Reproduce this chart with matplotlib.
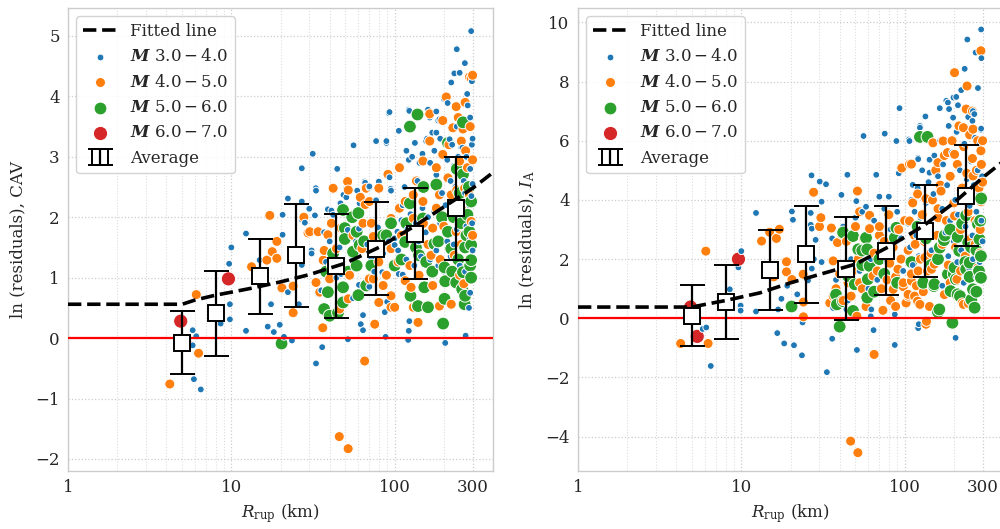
import numpy as np
import matplotlib
matplotlib.use("Agg")
import matplotlib.pyplot as plt
from matplotlib.ticker import FixedLocator, FixedFormatter, LogLocator, NullFormatter

# ---------------------------------------------------------------------------
# Residuals of CAV versus rupture distance (km, residual) by magnitude bin
# ---------------------------------------------------------------------------
cav_m3 = [
    (5.8, 0.13), (6.1, 0.03), (5.8, -0.12), (5.9, -0.68), (6.5, -0.85), (8.5, 0.38), (8.6, 0.24),
    (9.8, 0.31), (9.8, 0.56), (9.7, 1.23), (10.0, 1.50), (12.3, 0.12), (12.3, 1.73), (14.9, 1.29),
    (16.7, 0.19), (17.5, 0.56), (18.2, 0.10), (19.8, 0.22), (20.6, 2.04), (20.6, 1.71), (21.0, 0.02),
    (22.2, 0.76), (22.2, 2.31), (23.5, -0.04), (25.9, 0.56), (27.0, 2.26), (27.0, 2.81), (27.0, 1.21),
    (27.0, 1.96), (31.5, 3.05), (31.0, 1.45), (32.9, 2.48), (33.0, -0.42), (35.5, 0.79), (36.0, -0.15),
    (44.5, 2.80), (92, 3.72), (56, 3.19), (77, 3.26), (89, 3.23), (30.0, 2.14), (33.0, 2.44),
    (66, 2.57), (80, 2.59), (93, 2.66), (95, 2.44), (59, 2.44), (70, 2.49), (50.6, 2.33), (46.6, 2.23),
    (77, 2.28), (61, 2.23), (41, 2.11), (32.5, 2.03), (28.2, 1.91), (59.5, 2.03), (60.5, 1.81),
    (51.7, 1.79), (79, 1.83), (104, 1.76), (100, 1.65), (37, 1.75), (38, 1.26), (31, 1.40), (47, 1.06),
    (100, 1.54), (84, 1.09), (106, 1.06), (60.5, 0.88), (55.6, 0.66), (34, 0.73), (87, 0.43), (64, 0.38),
    (62, 0.23), (64, 0.13), (88, 0.02), (51.7, -0.02), (39, 2.13), (42, 2.04), (48.6, 2.37), (50.6, 2.48),
    (65.5, 2.59), (70, 2.51), (91, 2.71), (94.5, 2.47), (40, 1.60), (44, 1.00), (46, 1.50), (55, 1.35),
    (58, 1.60), (68, 1.55), (72, 1.30), (75, 1.10), (85, 1.40), (92, 1.60), (70, 0.85), (90, 0.60),
    (93, 3.74), (122, 3.78), (106, 3.43), (89, 3.26), (294, 5.08), (240, 4.78), (269, 4.55), (232, 4.38),
    (250, 4.39), (222, 4.23), (297, 4.25), (278, 4.04), (200, 3.96), (211, 3.89), (123, 3.76), (160, 3.78),
    (180, 3.75), (164, 3.65), (188, 3.62), (133, 3.23), (156, 3.26), (180, 3.40), (217, 3.29), (256, 3.15),
    (297, 3.20), (118, 3.10), (123, 0.28), (122, 0.12), (121, -0.03), (204, -0.08), (272, 0.04),
    (105, 1.45), (108, 1.70), (110, 1.95), (112, 2.20), (115, 1.55), (118, 1.30), (120, 1.80), (125, 2.05),
    (128, 1.50), (130, 2.35), (132, 1.20), (135, 1.90), (138, 2.60), (140, 1.60), (142, 2.90), (145, 1.35),
    (148, 2.15), (150, 2.50), (155, 1.75), (158, 3.30), (160, 2.00), (115, 2.50), (122, 2.95), (128, 3.00),
    (148, 3.05), (112, 1.05), (125, 0.85), (140, 1.05), (152, 1.25), (165, 2.90), (170, 3.40), (175, 3.10),
    (180, 2.70), (185, 3.60), (190, 3.30), (195, 2.40), (205, 2.20), (210, 2.95), (220, 2.60),
    (225, 3.20), (230, 2.85), (235, 2.50), (240, 3.50), (245, 3.00), (250, 2.30), (255, 2.75), (260, 3.15),
    (265, 2.60), (270, 2.40), (275, 3.00), (280, 2.50), (285, 2.20), (290, 2.80), (295, 3.20), (300, 2.55),
    (298, 1.90), (290, 1.65), (280, 1.30), (270, 1.10), (300, 1.45), (260, 1.50), (250, 1.20), (240, 1.80),
    (230, 1.55), (220, 1.35), (210, 1.60), (200, 1.10), (190, 1.90), (180, 1.45), (175, 2.10), (170, 1.60),
    (165, 1.30), (290, 0.75), (285, 0.50), (295, 2.35), (275, 1.85), (265, 2.05), (255, 1.95), (245, 2.25),
    (225, 2.05), (185, 1.20), (262, 3.45), (280, 3.85), (290, 3.65), (300, 3.30),
]

cav_m4 = [
    (4.2, -0.76), (6.1, 0.72), (6.3, -0.25), (17.2, 2.03), (19.0, 1.60), (17.8, 1.43), (19.0, 1.32),
    (16.5, 1.29), (13.3, 1.18), (15.8, 1.02), (20.4, 0.83), (23.9, 0.86), (23.9, 0.42), (27.8, 2.00),
    (29.5, 1.74), (30.2, 1.76), (34, 1.76), (51.5, 2.59), (52, 2.45), (61.6, 2.33), (66, 2.21),
    (72, 1.90), (41, 1.90), (39, 1.71), (37, 1.45), (36.5, 1.29), (33, 0.92), (34.8, 0.76), (36.3, 0.17),
    (45.8, -1.63), (51.9, -1.83), (65.5, -0.38), (75.5, 0.23), (70, 0.98), (89, 1.04), (100, 0.51),
    (107, 2.82), (95, 1.98), (139, 0.26), (136, 0.53), (126, 0.84), (164, 3.71), (197, 3.60), (207, 3.99),
    (238, 3.83), (227, 3.48), (262, 3.46), (256, 3.26), (287, 4.32), (294, 4.30), (222, 0.56),
    (74, 1.68), (80, 1.26), (85, 0.87), (95, 0.70), (105, 1.26), (95, 1.48), (110, 1.70), (107, 2.15),
    (116, 2.26), (130, 2.37), (149, 2.26), (130, 1.98), (132, 1.54), (124, 1.20), (116, 0.95), (130, 0.51),
    (141, 1.04), (167, 1.37), (171, 1.82), (180, 2.15), (188, 2.37), (180, 2.82), (197, 3.04), (212, 2.65),
    (222, 2.37), (227, 2.04), (238, 1.76), (232, 1.37), (250, 1.04), (171, 0.87), (188, 0.53), (294, 1.93),
    (287, 2.37), (279, 2.82), (272, 3.10), (250, 2.93), (268, 2.48), (256, 2.15), (164, 3.26), (149, 2.93),
    (136, 2.60), (91, 2.71), (80, 2.48), (70, 2.26), (67, 2.48), (42, 2.48), (44, 1.48), (53, 1.04),
    (52, 0.65), (46, 0.48), (40, 0.98), (41, 1.20), (47, 1.82), (55.6, 1.70), (64, 1.90), (63, 1.48),
    (74, 0.98), (80, 0.59), (95, 0.51), (215, 3.20), (245, 3.65), (270, 3.90), (290, 3.50), (300, 2.95),
    (300, 1.70), (285, 1.30), (265, 0.90), (255, 1.55), (240, 2.45), (200, 1.85), (190, 1.30), (160, 1.55),
    (150, 1.90), (300, 4.35),
]

cav_m5 = [
    (20.3, -0.09), (124, 3.50), (138, 3.70), (212, 3.23), (262, 3.57), (198, 0.24), (139, 0.53),
    (160, 0.51), (125, 0.70), (268, 0.56), (294, 1.00), (259, 0.81), (202, 0.65), (204, 0.94), (202, 1.17),
    (212, 1.76), (222, 1.48), (262, 2.71), (180, 2.54), (175, 1.56), (152, 0.84), (156, 1.26), (294, 1.29),
    (294, 1.54), (287, 1.76), (279, 2.04), (294, 2.26), (149, 1.98), (124, 2.23), (116, 1.59), (141, 1.37),
    (60, 2.07), (58.5, 1.76), (48.3, 2.12), (49.5, 1.82), (49.5, 1.64), (55.6, 1.43), (58.5, 1.20),
    (60, 0.71), (48.3, 0.59), (48.3, 0.84), (39, 0.76), (37, 0.48), (40, 0.37), (45, 0.42), (61, 1.54),
    (89, 1.70), (100, 1.20), (67, 0.87), (85, 1.70), (262, 1.09), (238, 0.92), (230, 2.00), (245, 1.30),
    (250, 2.40), (275, 1.70), (285, 2.50), (290, 1.20), (270, 0.70), (255, 1.90), (240, 2.80), (225, 1.10),
    (195, 2.00), (185, 1.60), (170, 1.10), (150, 2.50), (135, 1.50), (118, 1.90), (110, 1.30), (95, 1.90),
    (80, 1.50), (72, 1.20), (65, 1.60), (55, 2.00), (52, 1.10), (42, 1.40), (38, 1.10), (270, 1.50),
]

cav_m6 = [(4.9, 0.28), (5.2, -0.08), (9.6, 0.98)]

# ---------------------------------------------------------------------------
# Residuals of Arias intensity versus rupture distance by magnitude bin
# ---------------------------------------------------------------------------
ia_m3 = [
    (294, 9.76), (242, 9.42), (272, 8.98), (295, 8.79), (233, 8.43), (281, 7.78), (222, 7.71), (199, 7.46),
    (180, 7.35), (164, 7.10), (93, 7.10), (212, 7.20), (187, 7.07), (198, 6.78), (262, 7.00), (260, 6.67),
    (227, 6.50), (75.5, 6.24), (56, 6.16), (89, 5.99), (106, 6.04), (134, 6.82), (124, 6.50), (294, 6.41),
    (121, 5.42), (142, 5.36), (92, 4.90), (67, 4.85), (44.6, 4.85), (26.9, 4.83), (30.2, 4.62), (33, 4.53),
    (41, 4.17), (50.6, 3.96), (58, 3.77), (60, 3.48), (70, 4.11), (80, 4.11), (20.4, 3.61), (20.7, 3.33),
    (26.6, 3.56), (26.6, 3.16), (31, 3.94), (27, 3.03), (12.3, 3.56), (31, 1.90), (27.8, 2.00), (19.1, 1.10),
    (16.8, 0.30), (12.3, 0.23), (9.9, 0.43), (9.9, 0.26), (8.5, 0.98), (9.6, 1.72), (10.0, 2.27),
    (14.9, 1.66), (5.8, -0.36), (6.1, -0.31), (6.5, -1.61), (16.6, -0.50), (18.3, -0.85), (21, -0.91),
    (23.5, -1.25), (33.4, -1.82), (36, -0.69), (51, -1.07), (64.5, -0.40), (87, -0.90), (62, 0.07),
    (87, 0.13), (121, -0.33), (122, -0.20), (205, -0.66), (36.5, 0.35), (44, 0.30), (62.5, 0.30),
    (63, 0.87), (17.6, 0.66), (22.0, 0.81), (25.6, 1.28), (27.0, 1.68), (23.7, -0.14), (28.5, 2.65),
    (36, 2.70), (38, 1.30), (42, 3.10), (45, 0.60), (47, 2.00), (50, 3.40), (53, 1.60), (55, 3.60),
    (58, 2.50), (60, 1.00), (62, 2.00), (65, 3.30), (68, 1.30), (72, 2.60), (75, 3.70), (78, 1.90),
    (82, 3.00), (85, 2.30), (90, 3.60), (95, 2.70), (98, 1.60), (105, 3.20), (108, 2.40), (110, 4.00),
    (112, 1.80), (115, 3.60), (118, 2.80), (120, 4.40), (122, 2.10), (125, 3.40), (128, 5.00), (130, 2.60),
    (135, 3.90), (138, 1.50), (140, 4.60), (143, 3.00), (146, 2.30), (150, 4.20), (152, 5.50), (155, 3.40),
    (158, 1.90), (160, 4.80), (165, 6.00), (170, 3.70), (172, 5.20), (178, 2.90), (182, 4.50), (186, 6.50),
    (190, 3.30), (195, 5.60), (200, 2.60), (204, 4.00), (208, 6.30), (212, 3.50), (218, 5.00), (222, 2.30),
    (226, 4.30), (232, 5.90), (236, 3.10), (240, 4.70), (245, 6.80), (250, 3.80), (255, 5.30), (260, 2.80),
    (265, 4.50), (270, 6.10), (275, 3.60), (280, 5.00), (285, 4.20), (290, 5.90), (295, 3.30), (298, 4.80),
    (300, 2.60), (288, 1.90), (275, 1.40), (262, 2.00), (248, 1.70), (230, 1.20), (210, 1.90), (195, 1.50),
    (185, 2.10), (170, 1.10), (107, 5.99), (124, 6.44), (293, 6.37), (267, 6.90), (121, 5.38), (142, 4.92),
    (112, 4.51), (184, 7.29), (207, 7.48),
]

ia_m4 = [
    (6.06, 2.27), (4.25, -0.85), (6.26, -0.85), (13.3, 2.61), (14.9, 2.91), (16.4, 2.70), (17.1, 3.01),
    (18.9, 1.91), (18.9, 1.57), (15.8, 1.40), (23.9, 1.49), (24, 0.55), (24, 0.05), (20.4, 1.31),
    (27.7, 4.26), (30.1, 3.10), (30.7, 3.40), (35.6, 3.05), (36.5, 1.94), (38.8, 2.56), (41, 2.84),
    (41, 1.77), (36.5, 0.75), (34.8, 0.52), (51.4, 4.30), (53, 3.60), (61, 3.48), (61, 3.03), (70, 2.80),
    (53, 1.20), (64, 1.43), (47, 0.75), (51, 0.07), (65, -1.22), (46.7, -4.15), (51.7, -4.54), (73.6, 0.27),
    (85, 0.98), (81, 1.86), (98, 1.07), (102, 0.52), (91, 1.66), (105, 0.75), (115, 0.75), (96, 5.08),
    (107, 5.21), (146, 1.66), (121, 1.60), (124, 0.47), (136, -0.10), (149, 5.93), (172, 5.99), (202, 8.30),
    (241, 7.85), (238, 7.07), (262, 6.39), (229, 6.44), (293, 9.04), (222, 4.34), (225, 0.52), (209, 1.32),
    (183, 5.60), (202, 5.54), (293, 5.66), (160, 5.26), (135, 4.04), (167, 4.30), (262, 4.81), (293, 3.94),
    (110, 1.26), (105, 0.81), (120, 0.58), (135, -0.20), (229, 0.47), (152, 1.83), (133, 2.05), (160, 3.40),
    (202, 3.46), (116, 2.50), (107, 3.29), (110, 5.21), (38, 1.00), (40, 1.50), (42, 0.60), (45, 1.20),
    (48, 1.60), (52, 2.00), (55, 1.00), (58, 0.40), (44, 2.60), (50, 3.10), (56, 2.70), (65, 2.20),
    (68, 1.60), (72, 1.00), (75, 2.60), (78, 1.30), (82, 0.60), (85, 2.40), (88, 1.40), (92, 3.00),
    (95, 2.00), (98, 1.20), (100, 3.30), (70, 3.10), (80, 3.50), (88, 0.40), (105, 2.30), (110, 1.50),
    (112, 3.90), (115, 2.80), (118, 1.10), (120, 4.20), (125, 2.00), (128, 3.50), (130, 0.90), (132, 2.60),
    (138, 1.60), (140, 3.10), (142, 0.40), (145, 2.20), (148, 4.00), (150, 1.20), (155, 5.00), (158, 2.80),
    (160, 3.70), (165, 4.50), (170, 2.50), (175, 5.50), (180, 3.30), (185, 1.80), (190, 4.80), (195, 6.00),
    (200, 3.90), (205, 2.40), (210, 5.20), (215, 6.50), (220, 3.00), (225, 4.40), (230, 5.80), (235, 2.10),
    (240, 4.90), (245, 3.60), (250, 6.20), (255, 2.70), (260, 5.40), (265, 4.10), (270, 3.30), (275, 5.00),
    (280, 6.00), (285, 4.40), (290, 3.00), (295, 5.20), (300, 4.60), (290, 2.20), (280, 1.70), (270, 2.50),
    (190, 1.20), (175, 0.80), (220, 1.60), (245, 0.50), (260, 7.00), (300, 6.00),
]

ia_m5 = [
    (20.3, 0.40), (15.6, 1.65), (40, -0.28), (38.5, 0.47), (41.9, 0.58), (48.3, 0.25), (45, 1.43),
    (48.3, 2.78), (58, 2.72), (59, 2.33), (52, 2.33), (61, 1.77), (59, 0.70), (49.5, 1.15), (89, 3.06),
    (87, 2.72), (55, 2.29), (59.5, 1.32), (124, 6.13), (138, 6.13), (160, 0.21), (196, -0.15), (151, 1.09),
    (174, 2.64), (211, 2.75), (216, 2.28), (202, 1.71), (206, 1.32), (211, 0.81), (256, 0.63), (268, 0.36),
    (293, 1.37), (293, 2.10), (287, 2.67), (281, 3.18), (250, 1.88), (245, 2.56), (262, 0.98), (184, 1.49),
    (191, 0.92), (164, 2.39), (176, 2.80), (152, 1.15), (163, 0.30), (238, 1.66), (238, 3.48), (294, 4.05),
    (218, 0.75), (250, 1.40), (255, 2.40), (285, 1.60), (290, 3.30), (275, 2.30), (235, 1.90), (225, 3.20),
    (200, 1.50), (190, 3.00), (160, 2.00), (145, 1.80), (135, 2.70), (130, 1.20), (120, 3.10), (110, 1.90),
    (90, 1.20), (75, 1.50), (70, 2.00), (65, 0.90), (55, 1.80), (42, 2.90), (38, 0.80), (275, 0.90),
]

ia_m6 = [(4.89, 0.38), (5.37, -0.61), (9.6, 2.00)]

# Binned averages: distance, mean, standard deviation
avg_r = [5.0, 8.0, 14.9, 24.8, 44.0, 76.5, 134.0, 236.0]
avg_cav = [-0.08, 0.41, 1.02, 1.37, 1.19, 1.48, 1.73, 2.15]
std_cav = [0.52, 0.70, 0.62, 0.85, 0.86, 0.77, 0.75, 0.85]
avg_ia = [0.08, 0.55, 1.64, 2.17, 1.68, 2.29, 2.94, 4.14]
std_ia = [1.03, 1.25, 1.36, 1.64, 1.73, 1.50, 1.55, 1.71]

# Fitted trend lines
fit_r = [1, 5, 6, 8, 10, 13, 20, 30, 50, 80, 130, 200, 300, 400]
fit_cav = [0.56, 0.56, 0.63, 0.71, 0.76, 0.82, 0.93, 1.05, 1.24, 1.50, 1.84, 2.17, 2.48, 2.74]
fit_ia = [0.38, 0.38, 0.47, 0.60, 0.72, 0.86, 1.20, 1.48, 1.83, 2.42, 3.12, 3.90, 4.75, 5.30]

mag_labels = [r"$\boldsymbol{M}$ $3.0-4.0$", r"$\boldsymbol{M}$ $4.0-5.0$",
              r"$\boldsymbol{M}$ $5.0-6.0$", r"$\boldsymbol{M}$ $6.0-7.0$"]
mag_colors = ["#1f77b4", "#ff7f0e", "#2ca02c", "#d62728"]
mag_sizes = [24, 52, 85, 105]

x_ticks = [1, 10, 100, 300]
x_tick_labels = ["1", "10", "100", "300"]

plt.rcParams.update({
    "font.family": ["DejaVu Serif"],
    "mathtext.fontset": "dejavuserif",
    "font.size": 12,
    "axes.edgecolor": "#cccccc",
    "axes.linewidth": 1.0,
    "text.color": "#262626",
    "axes.labelcolor": "#262626",
    "xtick.color": "#262626",
    "ytick.color": "#262626",
})

fig = plt.figure(figsize=(10.0, 5.29), dpi=100)
ax_l = fig.add_axes([0.068, 0.1096, 0.425, 0.875])
ax_r = fig.add_axes([0.578, 0.1096, 0.425, 0.875])


def draw_panel(ax, groups, avg, std, fit, ylim, yticks, ylabel):
    ax.set_facecolor("white")
    # scatter all magnitude groups together, ordered by distance so colours interleave
    rs, vs, cs, ss = [], [], [], []
    for pts, col, size in zip(groups, mag_colors, mag_sizes):
        for r, v in pts:
            rs.append(r)
            vs.append(v)
            cs.append(col)
            ss.append(size)
    order = np.argsort(np.array(rs), kind="stable")
    ax.scatter(np.array(rs)[order], np.array(vs)[order], c=np.array(cs)[order],
               s=np.array(ss)[order], edgecolors="white", linewidths=0.7, zorder=2)

    ax.axhline(0, color="red", lw=1.6, zorder=3)
    eb_style = dict(fmt="s", ms=12, mec="black", mew=1.4, ecolor="black",
                    elinewidth=1.6, capsize=9, capthick=1.6)
    ax.errorbar(avg_r, avg, yerr=std, mfc="white", zorder=4, **eb_style)
    # hollow version used only as the legend key
    eb_key = ax.errorbar([np.nan], [np.nan], yerr=[np.nan], mfc="none", **eb_style)
    fit_line, = ax.plot(fit_r, fit, ls="--", color="black", lw=2.6, zorder=5)

    ax.set_xscale("log")
    ax.set_xlim(1, 400)
    ax.set_ylim(*ylim)
    ax.xaxis.set_major_locator(FixedLocator(x_ticks))
    ax.xaxis.set_major_formatter(FixedFormatter(x_tick_labels))
    ax.xaxis.set_minor_locator(LogLocator(base=10, subs=np.arange(2, 10), numticks=20))
    ax.xaxis.set_minor_formatter(NullFormatter())
    ax.set_yticks(yticks)
    ax.grid(True, which="major", color="#cccccc", ls=":", lw=0.9)
    ax.grid(True, which="minor", axis="x", color="#dddddd", ls=":", lw=0.8)
    ax.tick_params(which="both", length=0, pad=6, labelsize=12)
    ax.set_axisbelow(True)
    ax.set_xlabel(r"$R_\mathrm{rup}$ (km)", fontsize=12, labelpad=4)
    ax.set_ylabel(ylabel, fontsize=12, labelpad=6)

    handles = [fit_line]
    for col, size in zip(mag_colors, mag_sizes):
        handles.append(ax.scatter([], [], c=col, s=size, edgecolors="white", linewidths=0.7))
    handles.append(eb_key)
    labels = ["Fitted line"] + mag_labels + ["Average"]
    leg = ax.legend(handles, labels, loc="upper left", fontsize=12, frameon=True,
                    fancybox=True, framealpha=0.85, edgecolor="#cccccc")
    leg.set_zorder(10)


draw_panel(ax_l, [cav_m3, cav_m4, cav_m5, cav_m6], avg_cav, std_cav, fit_cav,
           (-2.2, 5.46), np.arange(-2, 6, 1), "ln (residuals), CAV")
draw_panel(ax_r, [ia_m3, ia_m4, ia_m5, ia_m6], avg_ia, std_ia, fit_ia,
           (-5.16, 10.48), np.arange(-4, 11, 2), r"ln (residuals), $I_\mathrm{A}$")

fig.savefig("out.png", dpi=100)
